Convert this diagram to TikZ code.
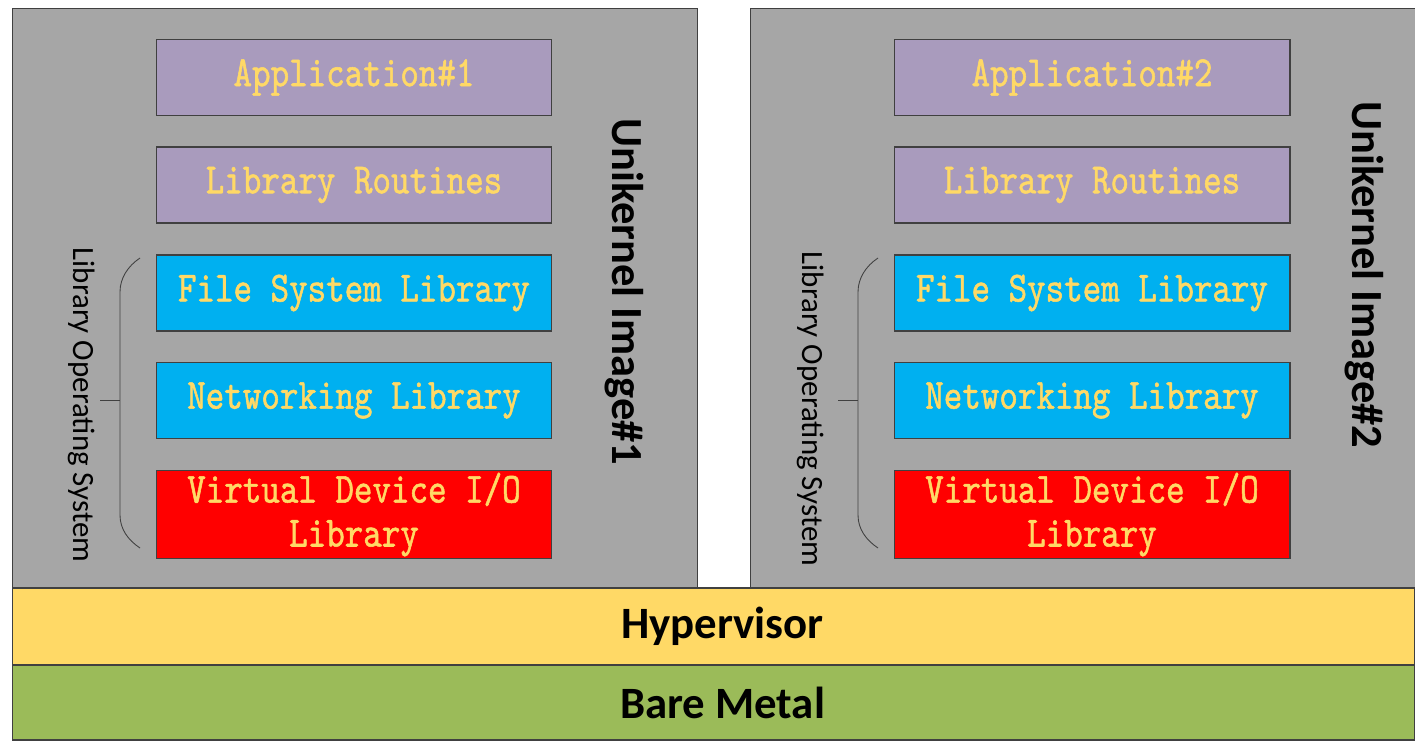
\documentclass[tikz,border=0pt]{standalone}
\usepackage{fontspec}
\setmainfont{Carlito}
\newfontfamily\boxfont[FakeStretch=0.82, FakeBold=1.2]{lmmono10-regular.otf}
\usepackage{xcolor}
\usetikzlibrary{positioning}

\definecolor{imggray}{HTML}{A6A6A6}
\definecolor{apppurple}{HTML}{A99BBD}
\definecolor{libblue}{HTML}{00B0F0}
\definecolor{devred}{HTML}{FF0000}
\definecolor{txtyellow}{HTML}{FFD966}
\definecolor{hvyellow}{HTML}{FFD966}
\definecolor{metalgreen}{HTML}{9BBB59}
\definecolor{edgegray}{HTML}{404040}

\begin{document}
\begin{tikzpicture}[x=0.02cm, y=-0.02cm,
    every layer/.style={rectangle, draw=edgegray, line width=0.6pt, minimum width=7.92cm, minimum height=1.52cm,
        inner ysep=1pt, text=txtyellow, font=\boxfont\fontsize{24.5}{25}\selectfont, align=center},
    every image/.style={rectangle, draw=edgegray, line width=0.5pt, fill=imggray, minimum height=11.6cm},
    every base/.style={rectangle, draw=edgegray, line width=0.6pt, minimum width=28.06cm,
        font=\bfseries\fontsize{25.5}{28}\selectfont}]

    \useasboundingbox (0,0) rectangle (1415,740);

    % Unikernel images - gray boxes
    \node[every image, minimum width=13.7cm] (Img-1) at (354.5, 298) {};
    \node[every image, minimum width=13.3cm] (Img-2) at (1082.5, 298) {};

    % Layers inside each image
    \foreach \k/\dx/\lx/\ux/\uy in {1/0/82/624/292, 2/738/811/1364/275} {
        \node[every layer, fill=apppurple] (App-\k) at (354+\dx, 77.5) {Application\#\k};
        \node[every layer, fill=apppurple] (Rout-\k) at (354+\dx, 185) {Library Routines};
        \node[every layer, fill=libblue] (FS-\k) at (354+\dx, 293) {File System Library};
        \node[every layer, fill=libblue] (Net-\k) at (354+\dx, 400.5) {Networking Library};
        \node[every layer, fill=devred, minimum height=1.76cm] (Dev-\k) at (354+\dx, 514.5) {Virtual Device I/O\\Library};

        % Brace for the library OS
        \draw[edgegray, line width=0.5pt] (\dx+140, 258) .. controls (\dx+128, 266) and (\dx+120, 278) .. (\dx+120, 292)
            -- (\dx+120, 515) .. controls (\dx+120, 529) and (\dx+128, 540) .. (\dx+140, 548);
        \draw[edgegray, line width=0.5pt] (\dx+100, 400) -- (\dx+120, 400);

        % Rotated labels
        \node[rotate=-90, font=\fontsize{17.6}{20}\selectfont] (LOS-\k) at (\lx, 401+\k*4) {Library Operating System};
        \node[rotate=-90, font=\bfseries\fontsize{25.3}{28}\selectfont] (Uni-\k) at (\ux, \uy) {Unikernel Image\#\k};
    }

    % Hypervisor and hardware
    \node[every base, fill=hvyellow, minimum height=1.54cm] (Hyp) at (713.5, 626.5) {\hspace*{0.36cm}Hypervisor};
    \node[every base, fill=metalgreen, minimum height=1.5cm] (Metal) at (713.5, 702.5) {\hspace*{0.36cm}Bare Metal};

\end{tikzpicture}
\end{document}
